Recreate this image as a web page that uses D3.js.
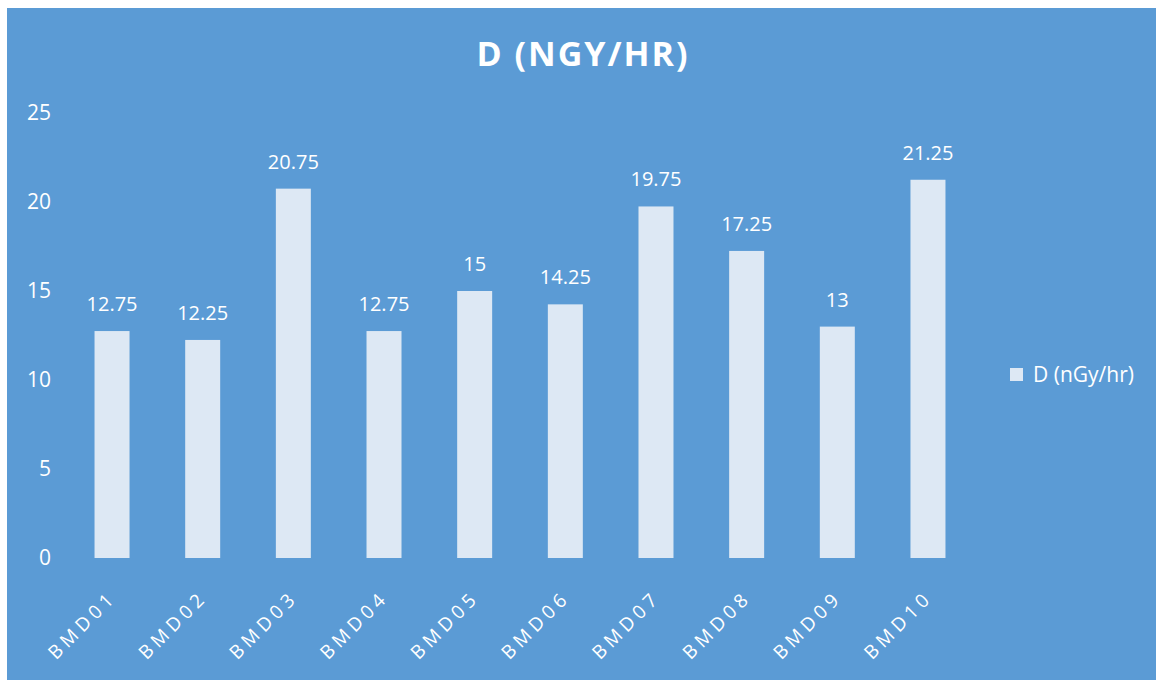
<!DOCTYPE html>
<html>
<head>
<meta charset="utf-8">
<script src="https://cdn.jsdelivr.net/npm/d3@7"></script>
<style>
  html, body { margin: 0; padding: 0; background: #ffffff; }
  svg { display: block; }
  text { font-family: "Open Sans", "Noto Sans", sans-serif; }
</style>
</head>
<body>
<svg id="chart" width="1156" height="681"></svg>
<script>
// Dose rate per station
const stations = ["BMD01", "BMD02", "BMD03", "BMD04", "BMD05", "BMD06", "BMD07", "BMD08", "BMD09", "BMD10"];
const doseRates = [12.75, 12.25, 20.75, 12.75, 15, 14.25, 19.75, 17.25, 13, 21.25];
const yTicks = [0, 5, 10, 15, 20, 25];
const chartTitle = "D (NGY/HR)";
const seriesName = "D (nGy/hr)";

const W = 1156, H = 681;
const bg = "#5b9bd5";
const barFill = "#dde8f4";
const textFill = "#ffffff";

const svg = d3.select("#chart");

// panel background
svg.append("rect")
  .attr("x", 7).attr("y", 8)
  .attr("width", W - 7).attr("height", H - 9)
  .attr("fill", bg);

const x = d3.scaleBand()
  .domain(stations)
  .range([66.7, 973.3])
  .paddingInner(0.614)
  .paddingOuter(0.307);

const y = d3.scaleLinear()
  .domain([0, 25])
  .range([558, 113]);

// title
svg.append("text")
  .attr("x", 583).attr("y", 66)
  .attr("text-anchor", "middle")
  .attr("fill", textFill)
  .attr("font-size", 34)
  .attr("font-weight", "bold")
  .attr("letter-spacing", 2)
  .text(chartTitle);

// y axis labels
const yAxis = d3.axisLeft(y).tickValues(yTicks).tickSize(0).tickPadding(0);
const gy = svg.append("g").attr("transform", "translate(51,0)").call(yAxis);
gy.select(".domain").remove();
gy.selectAll("text")
  .attr("fill", textFill)
  .attr("font-size", 21)
  .attr("font-family", "'Open Sans', 'Noto Sans', sans-serif");

// bars
svg.append("g").selectAll("rect")
  .data(stations)
  .join("rect")
  .attr("x", d => x(d))
  .attr("y", (d, i) => y(doseRates[i]))
  .attr("width", x.bandwidth())
  .attr("height", (d, i) => y(0) - y(doseRates[i]))
  .attr("fill", barFill);

// value labels
svg.append("g").selectAll("text")
  .data(stations)
  .join("text")
  .attr("x", d => x(d) + x.bandwidth() / 2)
  .attr("y", (d, i) => y(doseRates[i]) - 20)
  .attr("text-anchor", "middle")
  .attr("fill", textFill)
  .attr("font-size", 20)
  .text((d, i) => doseRates[i]);

// x axis labels, rotated and letter-spaced
const xAxis = d3.axisBottom(x).tickSize(0).tickPadding(0);
const gx = svg.append("g").attr("transform", "translate(0,558)").call(xAxis);
gx.select(".domain").remove();
gx.selectAll("text")
  .attr("fill", textFill)
  .attr("font-size", 19)
  .style("letter-spacing", "4.5px")
  .attr("font-family", "'Open Sans', 'Noto Sans', sans-serif")
  .attr("text-anchor", "end")
  .attr("dy", "0.35em")
  .attr("transform", "translate(1,36) rotate(-45)");

// legend
const lg = svg.append("g").attr("transform", "translate(1010,368)");
lg.append("rect").attr("width", 13).attr("height", 13).attr("fill", barFill);
lg.append("text")
  .attr("x", 23).attr("y", 14)
  .attr("fill", textFill)
  .attr("font-size", 21)
  .text(seriesName);
</script>
</body>
</html>
